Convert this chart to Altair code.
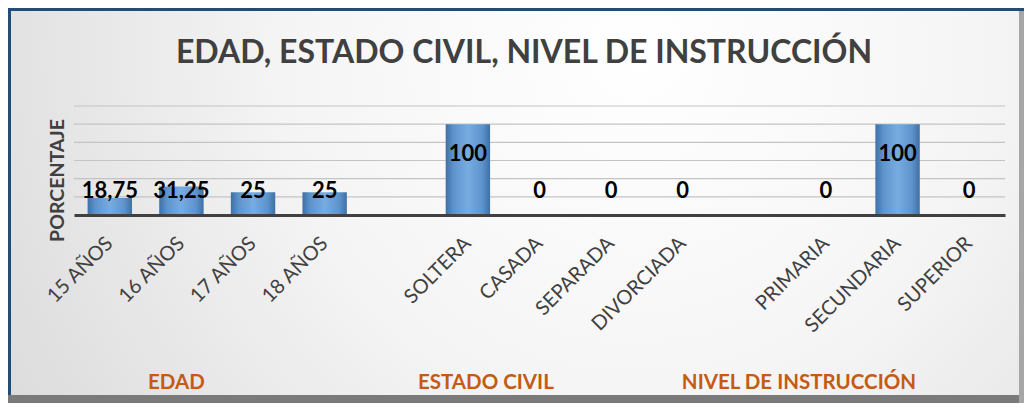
import altair as alt
import pandas as pd

# ---- data ----
categories = ["15 AÑOS", "16 AÑOS", "17 AÑOS", "18 AÑOS",
              "SOLTERA", "CASADA", "SEPARADA", "DIVORCIADA",
              "PRIMARIA", "SECUNDARIA", "SUPERIOR"]
values = [18.75, 31.25, 25, 25, 100, 0, 0, 0, 0, 100, 0]
# axis order, with empty slots between groups
axis_order = ["15 AÑOS", "16 AÑOS", "17 AÑOS", "18 AÑOS", " ",
              "SOLTERA", "CASADA", "SEPARADA", "DIVORCIADA", "  ",
              "PRIMARIA", "SECUNDARIA", "SUPERIOR"]
grid_values = [20, 40, 60, 80, 100, 120]
groups = ["EDAD", "ESTADO CIVIL", "NIVEL DE INSTRUCCIÓN"]
group_anchor = ["16 AÑOS", "SOLTERA", "PRIMARIA"]
group_dx = [-5, 18, -27]
title_text = "EDAD, ESTADO CIVIL, NIVEL DE INSTRUCCIÓN"

W, H = 931, 109
PAD = {"left": 66, "top": 98, "right": 19, "bottom": 188}
FONT = "Lato"

df = pd.DataFrame({"cat": categories, "value": values})
grid_df = pd.DataFrame({"g": grid_values})

xscale = alt.Scale(domain=axis_order, paddingInner=0.38, paddingOuter=0.19)
yscale = alt.Scale(domain=[0, 120])

x_enc = alt.X("cat:N", scale=xscale, sort=axis_order,
              axis=alt.Axis(title=None, labelAngle=-45, labelAlign="right",
                            labelBaseline="middle", labelPadding=25,
                            labelFont=FONT, labelFontSize=20, labelColor="#404040",
                            ticks=False, domainColor="#404040", domainWidth=3,
                            grid=False, labelOverlap=False, zindex=2))

y_axis = alt.Axis(title="PORCENTAJE", values=[0, 20, 40, 60, 80, 100, 120],
                  labels=False, ticks=False, domain=False, grid=False,
                  titleFont=FONT, titleFontSize=19.5, titleFontWeight="bold",
                  titleColor="#404040", titleAngle=-90,
                  titleX=-17, titleY=74, titleAlign="center",
                  titleBaseline="middle", zindex=2)

bar_grad = alt.Gradient(
    gradient="linear", x1=0, x2=1, y1=0, y2=0,
    stops=[alt.GradientStop(offset=0, color="#3f70a6"),
           alt.GradientStop(offset=0.18, color="#5e94cc"),
           alt.GradientStop(offset=0.5, color="#77ace2"),
           alt.GradientStop(offset=0.82, color="#5e94cc"),
           alt.GradientStop(offset=1, color="#3f70a6")])

bg_grad = alt.Gradient(
    gradient="radial", x1=0.62, y1=0.35, r1=0.0, x2=0.62, y2=0.35, r2=0.75,
    stops=[alt.GradientStop(offset=0, color="#ffffff"),
           alt.GradientStop(offset=0.45, color="#f5f5f5"),
           alt.GradientStop(offset=1, color="#d9d9d9")])

frame_df = pd.DataFrame({"k": [0]})

background = alt.Chart(frame_df).mark_rect(color=bg_grad).encode(
    x=alt.value(-PAD["left"]), x2=alt.value(W + PAD["right"]),
    y=alt.value(-PAD["top"]), y2=alt.value(H + PAD["bottom"]))
bottom_band = alt.Chart(frame_df).mark_rect(color="#7a7a7a").encode(
    x=alt.value(-PAD["left"]), x2=alt.value(W + PAD["right"]),
    y=alt.value(H + PAD["bottom"] - 8), y2=alt.value(H + PAD["bottom"]))
right_band = alt.Chart(frame_df).mark_rect(color="#a6a6a6").encode(
    x=alt.value(W + PAD["right"] - 5), x2=alt.value(W + PAD["right"]),
    y=alt.value(-PAD["top"]), y2=alt.value(H + PAD["bottom"]))
left_blue = alt.Chart(frame_df).mark_rect(color="#1f4e79").encode(
    x=alt.value(-PAD["left"]), x2=alt.value(-PAD["left"] + 3),
    y=alt.value(-PAD["top"]), y2=alt.value(H + PAD["bottom"] - 8))
top_blue = alt.Chart(frame_df).mark_rect(color="#1f4e79").encode(
    x=alt.value(-PAD["left"]), x2=alt.value(W + PAD["right"]),
    y=alt.value(-PAD["top"]), y2=alt.value(-PAD["top"] + 3))

gridlines = alt.Chart(grid_df).mark_rule(color="#c4c4c4", strokeWidth=1.2).encode(
    y=alt.Y("g:Q", scale=yscale, axis=y_axis),
    x=alt.value(0), x2=alt.value(W))

base = alt.Chart(df)

bars = base.mark_bar(color=bar_grad, strokeWidth=0).encode(
    x=x_enc,
    y=alt.Y("value:Q", scale=yscale, axis=y_axis),
)

labels = base.transform_calculate(
    lab="replace(toString(datum.value), '.', ',')",
    lab_y="datum.value >= 100 ? 67 : 26",
).mark_text(font=FONT, fontSize=22, fontWeight="bold", color="#000000",
            baseline="middle").encode(
    x=alt.X("cat:N", scale=xscale, sort=axis_order),
    y=alt.Y("lab_y:Q", scale=yscale, axis=y_axis),
    text="lab:N",
)

group_layers = []
for g, a, d in zip(groups, group_anchor, group_dx):
    gdf = pd.DataFrame({"name": [g], "anchor": [a]})
    group_layers.append(
        alt.Chart(gdf).mark_text(font=FONT, fontSize=20.5, fontWeight="bold",
                                 color="#c55a11", dx=d, baseline="middle").encode(
            x=alt.X("anchor:N", scale=xscale, sort=axis_order),
            y=alt.value(277),
            text="name:N"))

title_df = pd.DataFrame({"t": [title_text]})
title = alt.Chart(title_df).mark_text(
    font=FONT, fontSize=32, fontWeight="bold", color="#404040",
    baseline="alphabetic", align="center").encode(
    x=alt.value(524 - 74), y=alt.value(63 - 106), text="t:N")

chart = alt.layer(background, bottom_band, right_band, left_blue, top_blue,
                  gridlines, bars, labels, title, *group_layers).properties(
    width=W, height=H,
    padding=PAD,
    autosize=alt.AutoSizeParams(type="none"),
    background="#e6e6e6",
).configure_view(stroke=None)

chart.save("out.html", embed_options={"renderer": "svg", "actions": False})
